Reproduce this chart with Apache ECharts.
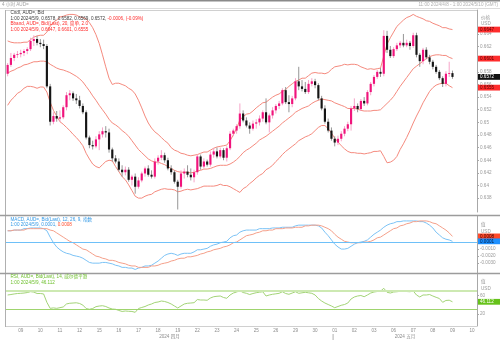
<!DOCTYPE html>
<html>
<head>
<meta charset="utf-8">
<script src="https://cdn.jsdelivr.net/npm/echarts@6/dist/echarts.min.js"></script>
<style>
  html, body { margin: 0; padding: 0; background: #fff; }
  #chart { width: 500px; height: 340px; }
</style>
</head>
<body>
<div id="chart"></div>
<script>
// AUD= Bid, 4-hour bars, 2024-04-08 .. 2024-05-09

const dayLabels = ['09','10','11','12','15','16','17','18','19','22','23','24','25','26','29','30','01','02','03','06','07','08','09','10'];
const monthLabels = ['2024 四月', '2024 五月'];
const mayFirstDay = 16;          // position of '01' in dayLabels
const firstDaySlot = 4;          // bar index of the first labelled day
const barsPerDay = 6;
const slotCount = 144;
const lastBarTime = '1:00 2024/5/9';

const open = [
  .6577,.6591,.6602,.6607,.6608,.6610,.6613,.6616,.6629,.6632,
  .6626,.6624,.6621,.6557,.6501,.6510,.6506,.6508,.6524,.6543,
  .6546,.6538,.6535,.6526,.6516,.6476,.6464,.6462,.6473,.6481,
  .6486,.6484,.6457,.6443,.6438,.6425,.6421,.6425,.6409,.6414,
  .6398,.6408,.6419,.6427,.6417,.6414,.6438,.6444,.6448,.6440,
  .6427,.6421,.6406,.6398,.6419,.6422,.6417,.6413,.6421,.6446,
  .6430,.6438,.6433,.6449,.6454,.6446,.6456,.6444,.6459,.6482,
  .6487,.6494,.6514,.6503,.6495,.6490,.6498,.6500,.6506,.6516,
  .6500,.6511,.6519,.6526,.6530,.6551,.6532,.6529,.6538,.6565,
  .6557,.6553,.6548,.6561,.6565,.6559,.6538,.6522,.6501,.6487,
  .6474,.6468,.6474,.6482,.6490,.6497,.6522,.6526,.6521,.6534,
  .6530,.6548,.6561,.6572,.6580,.6577,.6637,.6615,.6605,.6616,
  .6622,.6626,.6622,.6626,.6621,.6638,.6607,.6597,.6615,.6603,
  .6596,.6588,.6580,.6570,.6561,.6577,.6578
];
const high = [
  .6594,.6610,.6610,.6613,.6615,.6616,.6619,.6634,.6638,.6637,
  .6632,.6631,.6624,.6561,.6516,.6518,.6519,.6527,.6548,.6551,
  .6549,.6545,.6542,.6530,.6519,.6479,.6471,.6478,.6486,.6492,
  .6494,.6490,.6460,.6448,.6443,.6432,.6430,.6429,.6417,.6419,
  .6413,.6422,.6430,.6432,.6424,.6443,.6448,.6456,.6452,.6444,
  .6432,.6424,.6409,.6424,.6427,.6432,.6427,.6425,.6449,.6449,
  .6443,.6441,.6454,.6459,.6460,.6460,.6459,.6462,.6486,.6490,
  .6497,.6530,.6519,.6508,.6500,.6503,.6505,.6511,.6519,.6538,
  .6514,.6524,.6529,.6534,.6554,.6556,.6543,.6542,.6570,.6588,
  .6567,.6564,.6567,.6570,.6569,.6562,.6542,.6527,.6506,.6492,
  .6478,.6479,.6486,.6494,.6501,.6526,.6538,.6530,.6537,.6540,
  .6551,.6564,.6575,.6583,.6586,.6646,.6645,.6621,.6619,.6626,
  .6629,.6640,.6631,.6629,.6642,.6642,.6610,.6618,.6619,.6607,
  .6599,.6591,.6583,.6573,.6581,.6596,.6582
];
const low = [
  .6573,.6588,.6597,.6602,.6603,.6605,.6608,.6613,.6621,.6622,
  .6619,.6616,.6554,.6495,.6497,.6501,.6501,.6505,.6519,.6535,
  .6534,.6529,.6522,.6513,.6473,.6459,.6457,.6459,.6456,.6476,
  .6476,.6452,.6438,.6435,.6422,.6414,.6416,.6406,.6400,.6387,
  .6395,.6405,.6414,.6414,.6411,.6411,.6433,.6440,.6436,.6424,
  .6417,.6403,.6362,.6395,.6411,.6413,.6408,.6405,.6417,.6425,
  .6427,.6430,.6430,.6444,.6443,.6443,.6440,.6438,.6456,.6478,
  .6482,.6490,.6500,.6492,.6482,.6487,.6490,.6495,.6501,.6497,
  .6484,.6506,.6514,.6521,.6527,.6529,.6516,.6524,.6535,.6551,
  .6549,.6545,.6545,.6557,.6554,.6535,.6519,.6498,.6484,.6471,
  .6462,.6464,.6470,.6478,.6486,.6487,.6518,.6516,.6518,.6526,
  .6527,.6543,.6557,.6569,.6572,.6573,.6610,.6602,.6602,.6613,
  .6618,.6619,.6619,.6615,.6618,.6603,.6588,.6592,.6600,.6592,
  .6584,.6577,.6567,.6556,.6557,.6572,.6569
];
const close = [
  .6591,.6602,.6607,.6608,.6610,.6613,.6616,.6629,.6632,.6626,
  .6624,.6621,.6557,.6501,.6510,.6506,.6508,.6524,.6543,.6546,
  .6538,.6535,.6526,.6516,.6476,.6464,.6462,.6473,.6481,.6486,
  .6484,.6457,.6443,.6438,.6425,.6421,.6425,.6409,.6414,.6398,
  .6408,.6419,.6427,.6417,.6414,.6438,.6444,.6448,.6440,.6427,
  .6421,.6406,.6398,.6419,.6422,.6417,.6413,.6421,.6446,.6430,
  .6438,.6433,.6449,.6454,.6446,.6456,.6444,.6459,.6482,.6487,
  .6494,.6514,.6503,.6495,.6490,.6498,.6500,.6506,.6516,.6500,
  .6511,.6519,.6526,.6530,.6551,.6532,.6529,.6538,.6565,.6557,
  .6553,.6548,.6561,.6565,.6559,.6538,.6522,.6501,.6487,.6474,
  .6468,.6474,.6482,.6490,.6497,.6522,.6526,.6521,.6534,.6530,
  .6548,.6561,.6572,.6580,.6577,.6637,.6615,.6605,.6616,.6622,
  .6626,.6622,.6626,.6621,.6638,.6607,.6597,.6615,.6603,.6596,
  .6588,.6580,.6570,.6561,.6577,.6578,.6572
];

// Bollinger band (20, 2.0)
const bandUpper = [
  .6629,.6627,.6626,.6626,.6626,.6627,.6627,.6631,.6635,.6637,
  .6638,.6638,.6643,.6652,.6659,.6662,.6667,.6668,.6670,.6671,
  .6671,.6670,.6667,.6666,.6664,.6658,.6650,.6639,.6625,.6607,
  .6588,.6570,.6560,.6562,.6562,.6560,.6558,.6554,.6551,.6545,
  .6535,.6523,.6510,.6499,.6491,.6485,.6481,.6476,.6471,.6467,
  .6460,.6456,.6454,.6451,.6450,.6448,.6447,.6448,.6449,.6451,
  .6453,.6453,.6456,.6459,.6461,.6462,.6463,.6464,.6471,.6480,
  .6490,.6504,.6509,.6513,.6514,.6518,.6523,.6527,.6531,.6532,
  .6536,.6540,.6543,.6545,.6549,.6552,.6557,.6561,.6565,.6567,
  .6570,.6570,.6574,.6578,.6579,.6578,.6578,.6577,.6579,.6584,
  .6588,.6589,.6590,.6592,.6591,.6592,.6592,.6591,.6588,.6586,
  .6584,.6585,.6584,.6585,.6586,.6605,.6624,.6634,.6643,.6652,
  .6657,.6662,.6666,.6668,.6671,.6668,.6666,.6664,.6661,.6660,
  .6657,.6655,.6653,.6650,.6650,.6648,.6647
];
const bandMid = [
  .6578,.6581,.6583,.6586,.6588,.6591,.6592,.6594,.6596,.6596,
  .6597,.6597,.6596,.6592,.6589,.6586,.6584,.6583,.6581,.6579,
  .6576,.6573,.6569,.6564,.6557,.6550,.6542,.6535,.6527,.6520,
  .6513,.6505,.6499,.6496,.6492,.6487,.6483,.6478,.6471,.6464,
  .6457,.6452,.6447,.6442,.6439,.6437,.6437,.6435,.6433,.6430,
  .6427,.6424,.6422,.6421,.6421,.6421,.6420,.6421,.6423,.6424,
  .6426,.6426,.6427,.6429,.6431,.6432,.6432,.6432,.6434,.6437,
  .6441,.6446,.6452,.6456,.6459,.6463,.6467,.6472,.6475,.6478,
  .6482,.6486,.6490,.6494,.6499,.6503,.6507,.6511,.6516,.6519,
  .6522,.6524,.6526,.6530,.6533,.6535,.6537,.6536,.6535,.6534,
  .6531,.6529,.6527,.6525,.6522,.6522,.6522,.6521,.6519,.6518,
  .6518,.6518,.6519,.6519,.6520,.6525,.6530,.6535,.6541,.6549,
  .6557,.6564,.6571,.6578,.6585,.6589,.6593,.6597,.6601,.6604,
  .6606,.6607,.6607,.6606,.6606,.6603,.6601
];
const bandLower = [
  .6527,.6535,.6540,.6546,.6549,.6554,.6557,.6557,.6556,.6554,
  .6556,.6556,.6548,.6532,.6519,.6510,.6501,.6497,.6492,.6487,
  .6481,.6476,.6470,.6463,.6451,.6442,.6434,.6430,.6428,.6433,
  .6438,.6440,.6439,.6430,.6422,.6414,.6409,.6401,.6392,.6383,
  .6380,.6380,.6383,.6385,.6386,.6390,.6392,.6394,.6395,.6394,
  .6394,.6393,.6390,.6391,.6393,.6394,.6393,.6394,.6395,.6397,
  .6399,.6399,.6399,.6399,.6400,.6402,.6400,.6400,.6398,.6395,
  .6392,.6389,.6395,.6398,.6403,.6407,.6412,.6416,.6419,.6425,
  .6428,.6432,.6438,.6443,.6449,.6454,.6458,.6462,.6466,.6471,
  .6474,.6477,.6479,.6482,.6487,.6492,.6495,.6495,.6490,.6483,
  .6475,.6469,.6463,.6458,.6454,.6452,.6452,.6451,.6451,.6450,
  .6451,.6452,.6454,.6454,.6455,.6446,.6436,.6437,.6440,.6446,
  .6457,.6466,.6476,.6487,.6499,.6510,.6520,.6531,.6540,.6549,
  .6555,.6559,.6561,.6562,.6562,.6558,.6555
];

// MACD (12, 26, 9, exponential)
const macdLine = [
  .0016,.0016,.0017,.0017,.0017,.0019,.0019,.0020,.0020,.0020,
  .0020,.0019,.0016,.0007,-.0001,-.0007,-.0011,-.0014,-.0016,-.0017,
  -.0019,-.0020,-.0021,-.0023,-.0026,-.0029,-.0030,-.0030,-.0030,-.0029,
  -.0029,-.0030,-.0031,-.0033,-.0034,-.0036,-.0036,-.0037,-.0037,-.0039,
  -.0037,-.0036,-.0034,-.0034,-.0033,-.0030,-.0027,-.0023,-.0019,-.0017,
  -.0016,-.0017,-.0019,-.0017,-.0016,-.0016,-.0016,-.0014,-.0011,-.0011,
  -.0010,-.0009,-.0006,-.0004,-.0003,-.0001,.0000,.0001,.0006,.0009,
  .0010,.0014,.0016,.0017,.0017,.0017,.0017,.0019,.0019,.0019,
  .0019,.0020,.0020,.0020,.0021,.0021,.0021,.0021,.0023,.0024,
  .0024,.0024,.0024,.0024,.0024,.0023,.0020,.0014,.0009,.0003,
  -.0003,-.0007,-.0010,-.0010,-.0009,-.0006,-.0003,-.0001,.0000,.0001,
  .0003,.0007,.0011,.0014,.0017,.0021,.0024,.0026,.0027,.0029,
  .0029,.0030,.0030,.0030,.0030,.0030,.0029,.0029,.0027,.0024,
  .0020,.0014,.0010,.0006,.0004,.0003,.0001
];
const macdSignal = [
  .0016,.0016,.0017,.0017,.0017,.0017,.0019,.0019,.0019,.0019,
  .0019,.0019,.0019,.0017,.0016,.0013,.0010,.0007,.0004,.0001,
  -.0001,-.0004,-.0007,-.0010,-.0011,-.0014,-.0017,-.0020,-.0021,-.0023,
  -.0024,-.0026,-.0026,-.0027,-.0029,-.0030,-.0031,-.0033,-.0034,-.0034,
  -.0036,-.0036,-.0036,-.0036,-.0034,-.0034,-.0033,-.0031,-.0030,-.0029,
  -.0027,-.0026,-.0024,-.0023,-.0023,-.0021,-.0021,-.0020,-.0019,-.0017,
  -.0016,-.0014,-.0013,-.0011,-.0010,-.0009,-.0007,-.0006,-.0004,-.0001,
  .0000,.0003,.0006,.0009,.0010,.0011,.0013,.0014,.0016,.0016,
  .0017,.0017,.0019,.0019,.0019,.0020,.0020,.0020,.0021,.0021,
  .0021,.0023,.0023,.0024,.0024,.0024,.0023,.0021,.0019,.0016,
  .0011,.0007,.0004,.0001,.0000,-.0001,-.0001,-.0001,-.0001,.0000,
  .0000,.0001,.0003,.0006,.0007,.0010,.0013,.0016,.0019,.0020,
  .0023,.0024,.0026,.0027,.0029,.0029,.0030,.0030,.0030,.0029,
  .0027,.0026,.0023,.0020,.0017,.0013,.0008
];

// RSI (14, Wilder smoothing)
const rsi = [
  60.8,61.8,63.0,64.0,64.4,65.0,66.0,68.0,67.0,64.0,
  64.0,63.0,45.0,32.0,33.0,32.0,33.5,35.0,41.5,43.0,
  43.5,44.0,42.5,39.0,31.7,30.0,31.7,35.6,37.0,37.7,
  36.0,32.8,30.6,30.0,27.5,25.3,26.3,25.7,25.3,23.5,
  31.7,33.9,36.0,39.2,41.4,44.6,45.7,47.8,46.8,44.6,
  41.4,37.1,32.8,37.1,41.4,42.9,43.5,44.2,51.0,50.0,
  50.0,49.4,54.3,57.1,58.0,58.6,55.4,53.7,60.8,65.0,
  67.2,70.0,66.1,64.4,61.8,64.0,65.7,66.8,67.8,58.6,
  60.8,62.3,63.3,64.4,67.8,64.0,62.3,65.0,67.8,64.4,
  65.5,66.6,65.5,64.4,60.8,53.2,47.8,43.5,40.3,37.1,
  33.4,36.0,38.6,40.3,43.5,52.2,56.5,58.6,59.7,57.1,
  60.8,65.0,67.2,68.3,69.0,75.2,66.6,65.0,67.2,67.8,
  68.7,69.4,68.3,67.8,69.4,60.8,56.5,60.8,60.8,61.8,
  58.6,55.8,53.2,45.0,49.0,49.5,46.112
];
const rsiUpperLevel = 70;
const rsiLowerLevel = 30;

const priceTicks = [0.638,0.640,0.642,0.644,0.646,0.648,0.650,0.652,0.654,0.656,0.658,0.660,0.662,0.664];
const macdTicks = [-0.001,-0.002,-0.003];
const rsiTicks = [20,60];

// ---------------------------------------------------------------
const FONT = '"Liberation Sans", Arial, "Noto Sans CJK SC", sans-serif';
const UP_BODY = '#f0147c', UP_WICK = '#f59ac2';
const DOWN_BODY = '#151515', DOWN_WICK = '#8a8a8a';
const BAND = '#f58a7e';
const MACD_BLUE = '#7cc3f6', MACD_RED = '#f5a08a', ZERO_BLUE = '#6ec0f8';
const RSI_GREEN = '#a3d477';

const n = close.length;
const last = n - 1;

const slotNames = [];
for (let i = 0; i < slotCount; i++) slotNames.push('b' + i);
const daySlots = dayLabels.map((d, k) => firstDaySlot + k * barsPerDay);

const candleData = close.map((c, i) => [i, open[i], c, low[i], high[i]]);

function renderCandle(params, api) {
  const i = api.value(0);
  const o = api.value(1), c = api.value(2), lo = api.value(3), hi = api.value(4);
  const pO = api.coord([i, o]), pC = api.coord([i, c]);
  const pL = api.coord([i, lo]), pH = api.coord([i, hi]);
  const bw = api.size([1, 0])[0] * 0.66;
  const up = c >= o;
  const cx = pO[0];
  const top = Math.min(pO[1], pC[1]);
  const h = Math.max(Math.abs(pO[1] - pC[1]), 0.8);
  return {
    type: 'group',
    children: [
      { type: 'line', shape: { x1: cx, y1: pH[1], x2: cx, y2: pL[1] },
        style: { stroke: up ? UP_WICK : DOWN_WICK, lineWidth: 0.9 } },
      { type: 'rect', shape: { x: cx - bw / 2, y: top, width: bw, height: h },
        style: { fill: up ? UP_BODY : DOWN_BODY } }
    ]
  };
}

function xAxisFor(gridIndex) {
  return {
    type: 'category', gridIndex, data: slotNames, boundaryGap: true,
    axisLine: { show: false }, axisTick: { show: false }, splitLine: { show: false },
    axisLabel: { show: false }
  };
}

function yAxisFor(gridIndex, min, max, ticks, fmt) {
  return {
    type: 'value', gridIndex, position: 'right', min, max, scale: true,
    axisLine: { show: true, lineStyle: { color: '#a8a8a8', width: 1 } },
    axisTick: { show: true, length: 2, customValues: ticks, lineStyle: { color: '#a8a8a8' } },
    splitLine: { show: false },
    axisLabel: { show: true, customValues: ticks, formatter: fmt, fontSize: 4.6,
                 color: '#9a9a9a', fontFamily: FONT, margin: 3 }
  };
}

const chart = echarts.init(document.getElementById('chart'), null, { renderer: 'canvas', width: 500, height: 340 });

chart.setOption({
  animation: false,
  backgroundColor: '#ffffff',
  grid: [
    { left: 6, right: 23, top: 10, height: 202 },
    { left: 6, right: 23, top: 216, height: 57 },
    { left: 6, right: 23, top: 274, height: 52 }
  ],
  xAxis: [ xAxisFor(0), xAxisFor(1), xAxisFor(2) ],
  yAxis: [
    yAxisFor(0, 0.6358, 0.6678, priceTicks, v => String(+v.toFixed(3))),
    yAxisFor(1, -0.0044, 0.0037, macdTicks, v => v.toFixed(4)),
    yAxisFor(2, -6, 106, rsiTicks, v => String(v))
  ],
  series: [
    { type: 'line', name: 'upper', xAxisIndex: 0, yAxisIndex: 0, data: bandUpper, showSymbol: false,
      lineStyle: { color: BAND, width: 1 }, z: 2 },
    { type: 'line', name: 'mid', xAxisIndex: 0, yAxisIndex: 0, data: bandMid, showSymbol: false,
      lineStyle: { color: BAND, width: 1 }, z: 2 },
    { type: 'line', name: 'lower', xAxisIndex: 0, yAxisIndex: 0, data: bandLower, showSymbol: false,
      lineStyle: { color: BAND, width: 1 }, z: 2 },
    { type: 'custom', name: 'candles', xAxisIndex: 0, yAxisIndex: 0, data: candleData,
      renderItem: renderCandle, encode: { x: 0, y: [1, 2, 3, 4] }, clip: true, z: 3 },
    { type: 'line', name: 'macd', xAxisIndex: 1, yAxisIndex: 1, data: macdLine, showSymbol: false,
      lineStyle: { color: MACD_BLUE, width: 1 }, z: 3,
      markLine: { silent: true, symbol: 'none', label: { show: false },
                  lineStyle: { color: ZERO_BLUE, width: 1, type: 'solid' }, data: [{ yAxis: 0 }] } },
    { type: 'line', name: 'signal', xAxisIndex: 1, yAxisIndex: 1, data: macdSignal, showSymbol: false,
      lineStyle: { color: MACD_RED, width: 1 }, z: 3 },
    { type: 'line', name: 'rsi', xAxisIndex: 2, yAxisIndex: 2, data: rsi, showSymbol: false,
      lineStyle: { color: RSI_GREEN, width: 1 }, z: 3,
      markLine: { silent: true, symbol: 'none', label: { show: false },
                  data: [
                    { yAxis: rsiUpperLevel, lineStyle: { color: '#cde9b2', width: 2, type: 'solid' } },
                    { yAxis: rsiLowerLevel, lineStyle: { color: '#9fd46e', width: 1, type: 'solid' } }
                  ] } }
  ]
});

// ---- overlays: frame, titles, legends, time labels, value boxes ----
const fmt4 = v => v.toFixed(4);
const chg = close[last] - close[last - 1];
const chgPct = chg / close[last - 1] * 100;

function txt(x, y, rich, parts) {
  return { type: 'text', z: 50,
    style: { x, y, text: parts, rich, font: '4.6px ' + FONT, verticalAlign: 'middle' } };
}

const richMain = {
  k: { fill: '#3a3a3a', fontSize: 4.6, fontFamily: FONT },
  r: { fill: '#ff2a2a', fontSize: 4.6, fontFamily: FONT }
};
const richMacd = {
  b: { fill: '#3399e6', fontSize: 4.6, fontFamily: FONT },
  r: { fill: '#ff4a2a', fontSize: 4.6, fontFamily: FONT }
};
const richRsi = { g: { fill: '#6cbf2a', fontSize: 4.6, fontFamily: FONT } };

function yPix(axis, v) { return chart.convertToPixel({ yAxisIndex: axis }, v); }
function xPix(idx) { return chart.convertToPixel({ xAxisIndex: 2 }, idx); }

function valueBox(axis, v, label, bg, fg) {
  const y = yPix(axis, v);
  return [
    { type: 'rect', z: 60, shape: { x: 478, y: y - 2.9, width: 22, height: 5.8 }, style: { fill: bg } },
    { type: 'text', z: 61, style: { x: 480, y: y, text: label, fill: fg, font: '4.6px ' + FONT, verticalAlign: 'middle' } }
  ];
}

function line(x1, y1, x2, y2, color, w) {
  return { type: 'line', z: 40, shape: { x1, y1, x2, y2 }, style: { stroke: color, lineWidth: w || 1 } };
}

function axisCap(x, y, t) {
  return { type: 'text', z: 55, style: { x, y, text: t, fill: '#9a9a9a', font: '4.6px ' + FONT,
    verticalAlign: 'middle', backgroundColor: '#fff' } };
}

const aprStart = 0, mayStart = firstDaySlot + mayFirstDay * barsPerDay;
const aprCenter = (xPix(aprStart) + xPix(mayStart - 1)) / 2;
const mayCenter = (xPix(mayStart) + xPix(slotCount - 1)) / 2;
const monthEdge = (xPix(mayStart - 1) + xPix(mayStart)) / 2;

const graphics = [
  { type: 'rect', z: 40, shape: { x: 0, y: 0, width: 500, height: 1.5 }, style: { fill: '#8a8a8a' } },
  line(0, 8.5, 500, 8.5, '#dcdcdc', 1),
  line(6, 10.5, 477, 10.5, '#d0d0d0', 1),
  line(5.5, 10, 5.5, 327, '#b0b0b0', 1),
  line(0, 215.5, 500, 215.5, '#9c9c9c', 1.3),
  line(0, 273.5, 500, 273.5, '#9c9c9c', 1.3),
  line(6, 326.5, 477, 326.5, '#d0d0d0', 1),
  line(monthEdge, 334, monthEdge, 340, '#b0b0b0', 1),
  { type: 'text', z: 50, style: { x: 2, y: 5, text: '4 小时 AUD=', fill: '#a0a0a0', font: '4.6px ' + FONT, verticalAlign: 'middle' } },
  { type: 'text', z: 50, style: { x: 498, y: 5, text: '11:00 2024/4/8 - 1:00 2024/5/10 (GMT)', fill: '#b0b0b0',
    font: '4.6px ' + FONT, verticalAlign: 'middle', align: 'right' } },
  { type: 'text', z: 50, style: { x: aprCenter, y: 336.5, text: monthLabels[0], fill: '#8c8c8c', font: '4.6px ' + FONT, verticalAlign: 'middle', align: 'center' } },
  { type: 'text', z: 50, style: { x: mayCenter, y: 336.5, text: monthLabels[1], fill: '#8c8c8c', font: '4.6px ' + FONT, verticalAlign: 'middle', align: 'center' } },

  // main legend
  txt(10.5, 13, richMain, '{k|Cndl, AUD=, Bid}'),
  txt(10.5, 18.5, richMain, '{k|' + lastBarTime + ', ' + fmt4(open[last]) + ', ' + fmt4(high[last]) + ', ' +
      fmt4(low[last]) + ', ' + fmt4(close[last]) + ', }{r|' + fmt4(chg) + ', (' + chgPct.toFixed(2) + '%)}'),
  txt(10.5, 24, richMain, '{r|Bband, AUD=, Bid(Last), 20, 简单, 2.0}'),
  txt(10.5, 29.5, richMain, '{r|' + lastBarTime + ', ' + fmt4(bandUpper[last]) + ', ' + fmt4(bandMid[last]) + ', ' + fmt4(bandLower[last]) + '}'),

  // MACD legend
  txt(10.5, 219.5, richMacd, '{b|MACD, AUD=, Bid(Last), 12, 26, 9, 指数}'),
  txt(10.5, 225, richMacd, '{b|' + lastBarTime + ', ' + fmt4(macdLine[last]) + ', }{r|' + fmt4(macdSignal[last]) + '}'),

  // RSI legend
  txt(10.5, 277, richRsi, '{g|RSI, AUD=, Bid(Last), 14, 威尔德平滑}'),
  txt(10.5, 282.5, richRsi, '{g|' + lastBarTime + ', ' + rsi[last].toFixed(3) + '}'),

  // axis captions
  axisCap(481, 17.3, '价格'), axisCap(481, 23.3, 'USD'),
  axisCap(481, 225, '值'), axisCap(481, 232, 'USD'),
  axisCap(481, 281.7, '值'), axisCap(481, 288.3, 'USD')
];

// day labels under the bottom panel, placed at each day's first bar
dayLabels.forEach((d, k) => {
  graphics.push({ type: 'text', z: 50, style: { x: xPix(daySlots[k]), y: 330.7, text: d, fill: '#8c8c8c',
    font: '4.6px ' + FONT, verticalAlign: 'middle', align: 'center' } });
});

graphics.push(...valueBox(0, bandUpper[last], fmt4(bandUpper[last]), '#ff2d2d', '#5a0000'));
graphics.push(...valueBox(0, bandMid[last], fmt4(bandMid[last]), '#ff2d2d', '#5a0000'));
graphics.push(...valueBox(0, bandLower[last], fmt4(bandLower[last]), '#ff2d2d', '#5a0000'));
graphics.push(...valueBox(0, close[last], fmt4(close[last]), '#111111', '#ffffff'));
graphics.push(...valueBox(1, macdSignal[last], fmt4(macdSignal[last]), '#ff4a2a', '#3a0000'));
graphics.push(...valueBox(1, macdLine[last], fmt4(macdLine[last]), '#1e90ff', '#001a40'));
graphics.push(...valueBox(2, rsi[last], rsi[last].toFixed(3), '#66c21a', '#ffffff'));

chart.setOption({ graphic: graphics });
</script>
</body>
</html>
